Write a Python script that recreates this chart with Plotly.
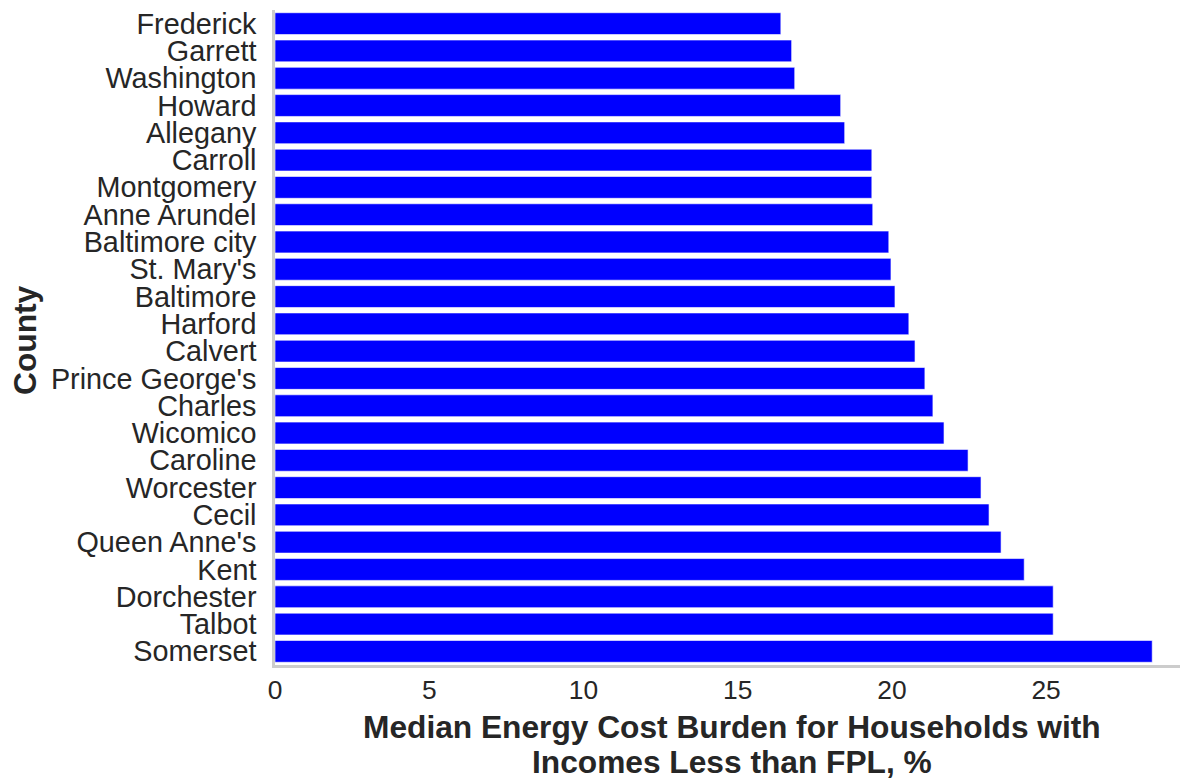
import plotly.graph_objects as go

counties = ["Frederick", "Garrett", "Washington", "Howard", "Allegany", "Carroll",
            "Montgomery", "Anne Arundel", "Baltimore city", "St. Mary's", "Baltimore",
            "Harford", "Calvert", "Prince George's", "Charles", "Wicomico", "Caroline",
            "Worcester", "Cecil", "Queen Anne's", "Kent", "Dorchester", "Talbot", "Somerset"]
burden = [16.4, 16.75, 16.85, 18.34, 18.47, 19.35, 19.35, 19.38, 19.9, 19.97, 20.1,
          20.55, 20.75, 21.07, 21.33, 21.69, 22.47, 22.89, 23.15, 23.54, 24.29, 25.23,
          25.23, 28.44]
x_ticks = [0, 5, 10, 15, 20, 25]
x_title_lines = ["Median Energy Cost Burden for Households with", "Incomes Less than FPL, %"]
y_title = "County"

text_color = "#262626"
FONT = "Liberation Sans, Arial, sans-serif"

fig = go.Figure(go.Bar(
    x=burden, y=counties, orientation="h",
    marker=dict(color="#0000ff", line=dict(color="rgba(255,255,255,0.6)", width=1)),
    width=0.8,
))

fig.update_layout(
    width=1180, height=773,
    margin=dict(l=267, r=0, t=2, b=116),
    paper_bgcolor="white", plot_bgcolor="white",
    font=dict(family=FONT, color=text_color, size=24),
    showlegend=False,
)
fig.update_xaxes(
    range=[0, 29.6], tickmode="array", tickvals=x_ticks, ticktext=[str(t) for t in x_ticks],
    showgrid=False, zeroline=False,
    showline=True, linecolor="#cccccc", linewidth=2.5,
    ticks="", tickfont=dict(size=26.4, color=text_color),
    automargin=False,
)
fig.update_yaxes(
    tickmode="array", tickvals=counties, ticktext=counties,
    categoryorder="array", categoryarray=counties, autorange="reversed",
    showgrid=False, zeroline=False,
    showline=True, linecolor="#cccccc", linewidth=2.5,
    ticks="", ticklabelstandoff=10, tickfont=dict(size=28.8, color=text_color),
    automargin=False,
)

title_font = dict(family=FONT, size=31.7, color=text_color)
fig.add_annotation(text="<b>" + x_title_lines[0] + "</b>", xref="paper", yref="paper",
                   x=0.5, y=-0.094, xanchor="center", yanchor="middle",
                   showarrow=False, font=title_font)
fig.add_annotation(text="<b>" + x_title_lines[1] + "</b>", xref="paper", yref="paper",
                   x=0.5, y=-0.148, xanchor="center", yanchor="middle",
                   showarrow=False, font=title_font)
fig.add_annotation(text="<b>" + y_title + "</b>", xref="paper", yref="paper",
                   x=-0.274, y=0.496, xanchor="center", yanchor="middle", textangle=-90,
                   showarrow=False, font=title_font)

fig.write_html("out.html")
